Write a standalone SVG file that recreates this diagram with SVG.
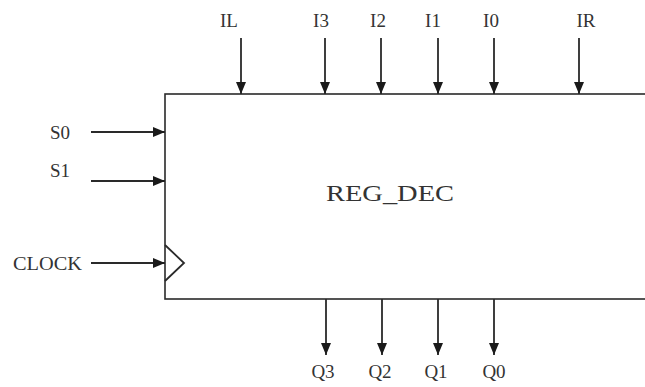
<svg xmlns="http://www.w3.org/2000/svg" width="645" height="387" viewBox="0 0 645 387">
<style>
text{font-family:"Liberation Serif","Times New Roman",serif;fill:#333;font-size:19px}
.lbl{text-anchor:middle}
.w{stroke:#2a2a2a;stroke-width:1.8;fill:none}
.box{stroke:#2a2a2a;stroke-width:1.6;fill:#fff}
</style>
<defs>
<marker id="ah" viewBox="0 0 12 10" refX="12" refY="5" markerUnits="userSpaceOnUse" markerWidth="12" markerHeight="10" orient="auto">
<path d="M0,0 L12,5 L0,10 z" fill="#1a1a1a"/>
</marker>
</defs>
<rect width="645" height="387" fill="#fff"/>
<g id="reg_dec">
<rect class="box" x="165" y="94" width="520" height="205"/>
<path class="w" d="M165,245 L184,263 L165,281" stroke-width="1.2"/>
<text x="390" y="201" text-anchor="middle" style="font-size:24px" textLength="128" lengthAdjust="spacingAndGlyphs">REG_DEC</text>
</g>
<g id="connectors">
<line class="w" x1="241" y1="38" x2="241" y2="94" marker-end="url(#ah)"/>
<line class="w" x1="325" y1="38" x2="325" y2="94" marker-end="url(#ah)"/>
<line class="w" x1="381" y1="38" x2="381" y2="94" marker-end="url(#ah)"/>
<line class="w" x1="438" y1="38" x2="438" y2="94" marker-end="url(#ah)"/>
<line class="w" x1="494" y1="38" x2="494" y2="94" marker-end="url(#ah)"/>
<line class="w" x1="579" y1="38" x2="579" y2="94" marker-end="url(#ah)"/>
<line class="w" x1="91" y1="132" x2="165" y2="132" marker-end="url(#ah)"/>
<line class="w" x1="91" y1="181" x2="165" y2="181" marker-end="url(#ah)"/>
<line class="w" x1="91" y1="263" x2="165" y2="263" marker-end="url(#ah)"/>
<line class="w" x1="326" y1="299" x2="326" y2="355" marker-end="url(#ah)"/>
<line class="w" x1="382" y1="299" x2="382" y2="355" marker-end="url(#ah)"/>
<line class="w" x1="438" y1="299" x2="438" y2="355" marker-end="url(#ah)"/>
<line class="w" x1="494" y1="299" x2="494" y2="355" marker-end="url(#ah)"/>
</g>
<g id="labels">
<text class="lbl" x="229" y="27">IL</text>
<text class="lbl" x="321" y="27">I3</text>
<text class="lbl" x="378" y="27">I2</text>
<text class="lbl" x="433" y="27">I1</text>
<text class="lbl" x="491" y="27">I0</text>
<text class="lbl" x="586" y="27">IR</text>
<text x="50" y="139">S0</text>
<text x="50" y="177">S1</text>
<text x="13" y="270" textLength="69" lengthAdjust="spacingAndGlyphs">CLOCK</text>
<text class="lbl" x="323" y="378">Q3</text>
<text class="lbl" x="380" y="378">Q2</text>
<text class="lbl" x="436" y="378">Q1</text>
<text class="lbl" x="494" y="378">Q0</text>
</g>
</svg>
